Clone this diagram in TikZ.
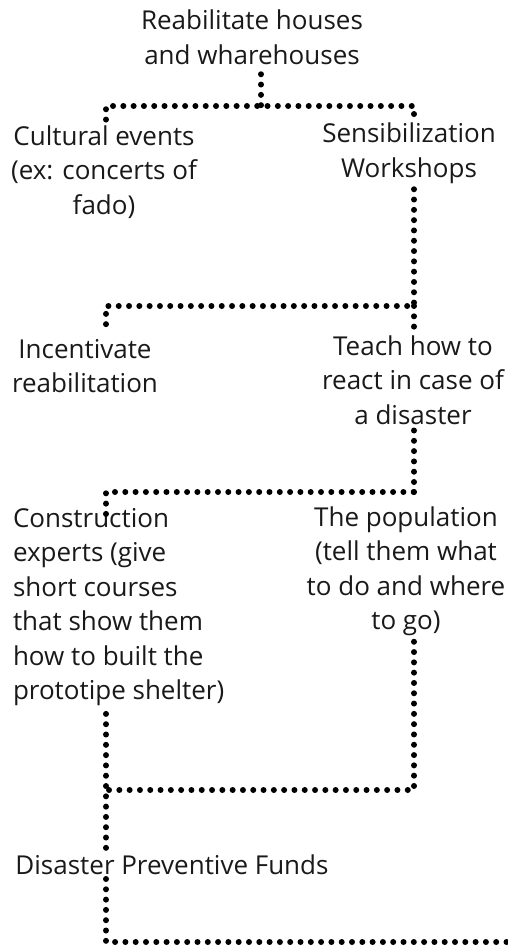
\documentclass[tikz,border=0pt]{standalone}
\usepackage{fontspec}
\setmainfont{Open Sans}
\begin{document}
\begin{tikzpicture}[x=1bp,y=-1bp,
  lbl/.style={font=\fontsize{26bp}{34.5bp}\selectfont, align=center, inner sep=0pt, outer sep=6bp, text=black!90},
  dotline/.style={line width=6bp, line cap=round, dash pattern=on 0bp off 10.3bp}]
\useasboundingbox (0,0) rectangle (508,949);
% x positions of the two vertical dotted rails
\coordinate (L) at (106,0);
\coordinate (R) at (414,0);
% nodes
\node[lbl, outer sep=10bp] (t) at (252,37) {Reabilitate houses\\and wharehouses};
\node[lbl] (ce)  at (104,172) {Cultural events\\(ex: concerts of\\fado)};
\node[lbl] (sw)  at (409,153) {Sensibilization\\Workshops};
\node[lbl] (inc) at (85,366) {Incentivate\\reabilitation};
\node[lbl] (th)  at (413,380) {Teach how to\\react in case of\\a disaster};
\node[lbl, align=left, anchor=west, outer sep=0pt] (ct) at (13,607) {Construction\\experts (give\\short courses\\that show them\\how to built the\\prototipe shelter)};
\node[lbl] (pop) at (406,571) {The population\\(tell them what\\to do and where\\to go)};
\node[lbl, outer sep=4bp] (dpf) at (172,865) {Disaster Preventive Funds};
% junctions of the connectors
\coordinate (j1) at (261,106);
\coordinate (j2) at (414,306);
\coordinate (j3) at (414,492);
\coordinate (j4) at (414,790);
\coordinate (end) at (510,942);
% connectors
\draw[dotline] (t.south -| j1) -- (j1);
\draw[dotline] (ce.north -| L) -- (L |- j1) -- (R |- j1) -- (sw.north -| R);
\draw[dotline] (sw.south -| j2) -- (j2) -- (L |- j2) -- (inc.north -| L);
\draw[dotline] (j2) -- (th.north -| j2);
\draw[dotline] (th.south -| j3) -- (j3) -- (L |- j3) -- ([yshift=-6bp]ct.north -| L);
\draw[dotline] (j3) -- (pop.north -| j3);
\draw[dotline] (pop.south -| j4) -- (j4) -- (L |- j4);
\draw[dotline] ([yshift=-8bp]ct.south -| L) -- (dpf.north -| L);
\draw[dotline] (dpf.south -| L) -- (L |- end) -- (end);
\end{tikzpicture}
\end{document}
